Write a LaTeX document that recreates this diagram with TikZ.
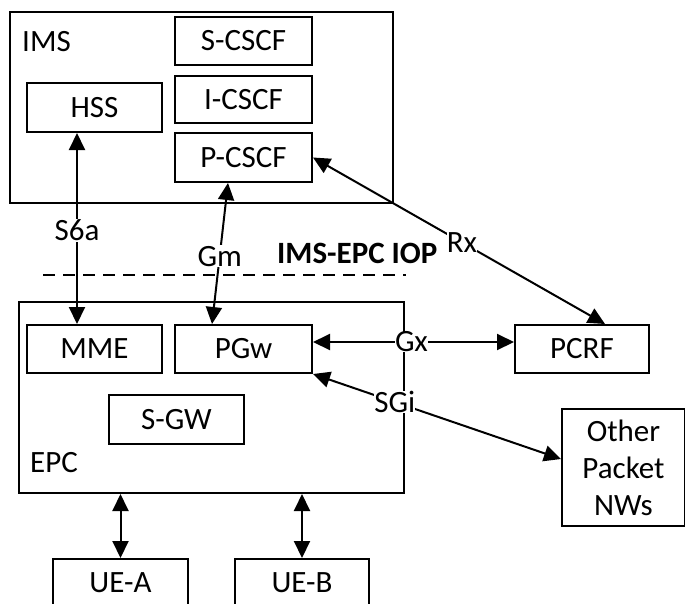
\documentclass[tikz,border=0pt]{standalone}
\usepackage{fontspec}
\setmainfont{Carlito}
\usetikzlibrary{arrows.meta}
\begin{document}
\begin{tikzpicture}[x=1pt,y=-1pt,
  txt/.style={font=\fontsize{31}{37}\selectfont},
  box/.style={draw, line width=2pt, inner sep=0pt, txt, align=center},
  tip/.tip={Triangle[length=17pt,width=16pt]},
  conn/.style={line width=2pt, tip-tip},
  lab/.style={fill=white, inner sep=1pt, txt}]
\clip (0,0) rectangle (685,603);
% IMS area
\node[box, minimum width=383pt, minimum height=191pt] (ims) at (201.5,107.5) {};
\node[txt, anchor=west, inner sep=0pt] (imslab) at (22,42) {IMS};
\node[box, minimum width=137pt, minimum height=48pt] (scscf) at (243.5,41) {S-CSCF};
\node[box, minimum width=137pt, minimum height=47pt] (icscf) at (243.5,99.5) {I-CSCF};
\node[box, minimum width=137pt, minimum height=49pt] (pcscf) at (243.5,157.5) {P-CSCF};
\node[box, minimum width=135pt, minimum height=49pt] (hss) at (94.5,107.5) {HSS};
% IOP line
\coordinate (d1) at (43,275);
\coordinate (d2) at (406,275);
\draw[line width=2pt, dash pattern=on 12pt off 8pt] (d1) -- (d2);
\node[font=\bfseries\fontsize{31}{37}\selectfont, anchor=west, inner sep=0pt] (iop) at (277,253) {IMS-EPC IOP};
% EPC area
\node[box, minimum width=385pt, minimum height=191pt] (epc) at (211.5,397.5) {};
\node[txt, anchor=west, inner sep=0pt] (epclab) at (30,463) {EPC};
\node[box, minimum width=135pt, minimum height=48pt] (mme) at (94.5,349) {MME};
\node[box, minimum width=137pt, minimum height=48pt] (pgw) at (243.5,349) {PGw};
\node[box, minimum width=135pt, minimum height=49pt] (sgw) at (176.5,419.5) {S-GW};
% outside
\node[box, minimum width=134pt, minimum height=48pt] (pcrf) at (582,349) {PCRF};
\node[box, minimum width=123pt, minimum height=117pt] (other) at (623.5,467.5) {Other\\Packet\\NWs};
\node[box, minimum width=135pt, minimum height=48pt] (uea) at (120.5,583) {UE-A};
\node[box, minimum width=134pt, minimum height=48pt] (ueb) at (302,583) {UE-B};
% connectors
\draw[conn] ([xshift=-17.5pt]mme.north) -- node[lab, pos=0.49] (s6a) {S6a} ([xshift=-17.5pt]hss.south);
\draw[conn] ([xshift=-31.5pt]pgw.north) -- node[lab, pos=0.48] (gm) {Gm} ([xshift=-15.5pt]pcscf.south);
\draw[conn] ([xshift=23pt]pcrf.north) -- node[lab, pos=0.49, inner sep=0pt] (rx) {Rx} (pcscf.east);
\draw[conn] ([yshift=7pt]pgw.east) -- node[lab, pos=0.49, inner sep=0pt] (gx) {Gx} ([yshift=7pt]pcrf.west);
\draw[conn] (pgw.south east) -- node[lab, pos=0.33, inner sep=0pt] (sgi) {SGi} ([yshift=8.5pt]other.west);
\draw[conn] (uea.north |- epc.south) -- (uea.north);
\draw[conn] (ueb.north |- epc.south) -- (ueb.north);
\end{tikzpicture}
\end{document}
